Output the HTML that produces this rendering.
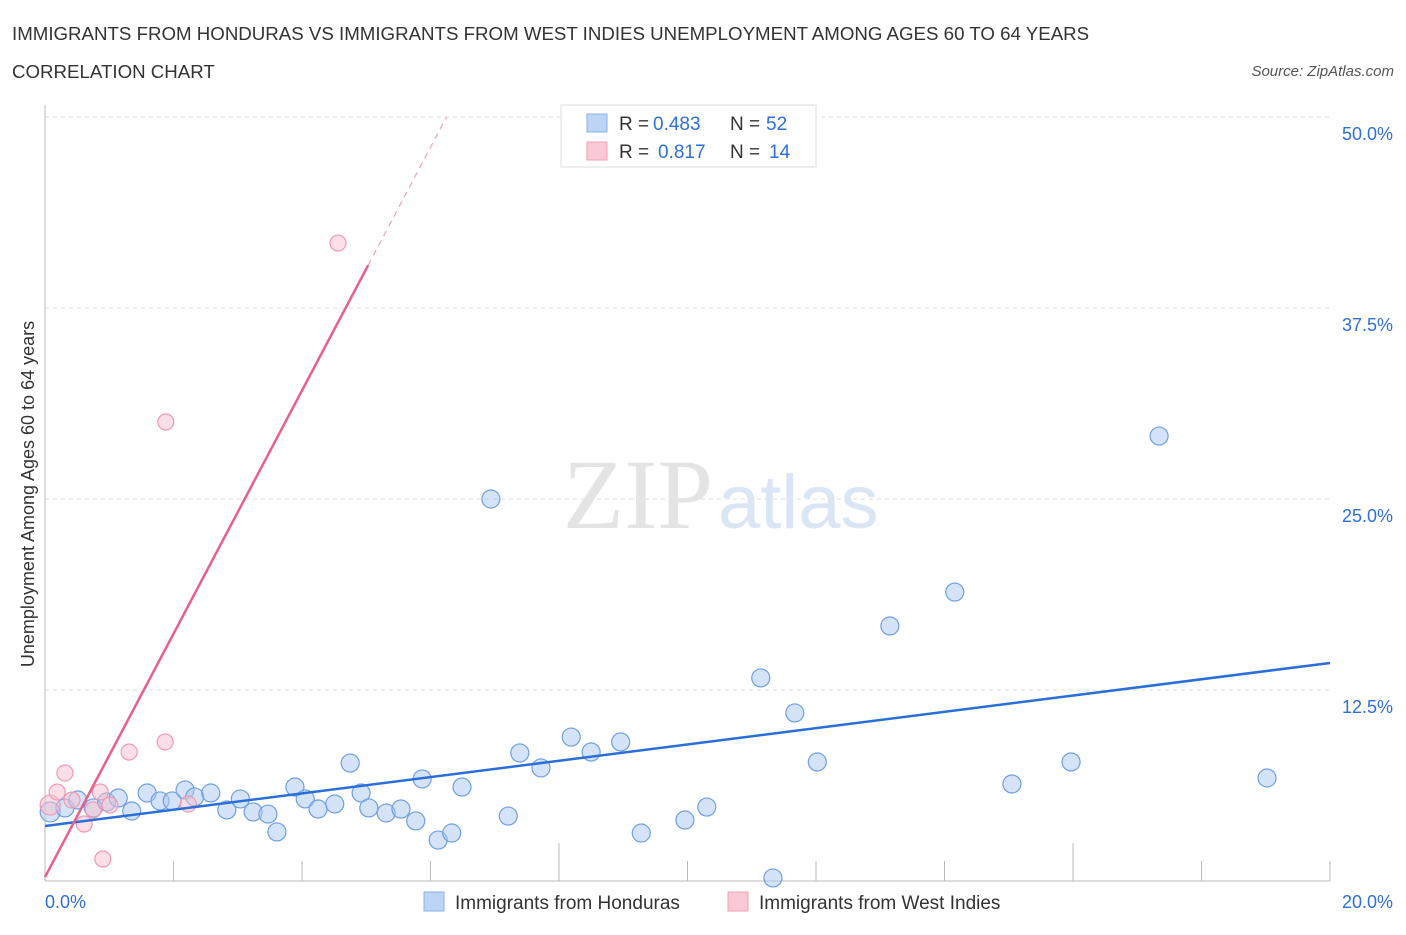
<!DOCTYPE html>
<html><head><meta charset="utf-8"><style>
body{margin:0;background:#fff;font-family:"Liberation Sans",sans-serif;}
</style></head><body>
<svg width="1406" height="930" xmlns="http://www.w3.org/2000/svg" style="font-family:'Liberation Sans',sans-serif">
<text x="12" y="40" font-size="18.7" fill="#333">IMMIGRANTS FROM HONDURAS VS IMMIGRANTS FROM WEST INDIES UNEMPLOYMENT AMONG AGES 60 TO 64 YEARS</text>
<text x="12" y="78" font-size="18.7" fill="#333">CORRELATION CHART</text>
<text x="1394" y="76" font-size="15" fill="#555" font-style="italic" text-anchor="end">Source: ZipAtlas.com</text>
<g id="grid"></g>
<g id="axes"></g>
<text x="713" y="528" font-size="100" fill="#e4e4e4" text-anchor="end" font-family="Liberation Serif">ZIP</text>
<text x="718" y="528" font-size="76" fill="#dbe6f5">atlas</text>
<g id="marks"></g>
<text x="34" y="494" font-size="18" fill="#333" text-anchor="middle" transform="rotate(-90 34 494)">Unemployment Among Ages 60 to 64 years</text>
<g>
<rect x="561" y="105" width="255" height="62" fill="#fff" stroke="#ddd"/>
<rect x="587" y="114" width="20" height="18" fill="#bcd4f5" stroke="#8ab0e8"/>
<rect x="587" y="142" width="20" height="18" fill="#fac9d6" stroke="#f0a0b8"/>
<text x="619" y="130" font-size="19" fill="#333">R =</text>
<text x="653" y="130" font-size="19" fill="#2f6fd6">0.483</text>
<text x="730" y="130" font-size="19" fill="#333">N =</text>
<text x="766" y="130" font-size="19" fill="#2f6fd6">52</text>
<text x="619" y="158" font-size="19" fill="#333">R =</text>
<text x="658" y="158" font-size="19" fill="#2f6fd6">0.817</text>
<text x="730" y="158" font-size="19" fill="#333">N =</text>
<text x="769" y="158" font-size="19" fill="#2f6fd6">14</text>
</g>
<g>
<rect x="424" y="892" width="20" height="19" fill="#bcd4f5" stroke="#8ab0e8"/>
<text x="455" y="909" font-size="19" fill="#333">Immigrants from Honduras</text>
<rect x="728" y="892" width="20" height="19" fill="#fac9d6" stroke="#f0a0b8"/>
<text x="759" y="909" font-size="19" fill="#333">Immigrants from West Indies</text>
</g>
</svg>
<script>
const blueX=[0.08,0.31,0.51,0.75,0.96,1.14,1.35,1.59,1.79,1.98,2.18,2.33,2.58,2.83,3.04,3.24,3.47,3.61,3.89,4.05,4.25,4.51,4.75,4.92,5.04,5.31,5.54,5.77,5.87,6.12,6.33,6.49,6.94,7.21,7.39,7.72,8.19,8.5,8.96,9.28,9.96,10.3,11.14,11.33,11.67,12.02,13.15,14.16,15.05,15.97,17.34,19.02];
const blueY=[4.52,4.78,5.3,4.78,5.17,5.43,4.58,5.76,5.24,5.24,5.96,5.5,5.76,4.65,5.37,4.52,4.38,3.21,6.15,5.37,4.71,5.04,7.72,5.76,4.78,4.45,4.71,3.93,6.68,2.68,3.14,6.15,25.0,4.25,8.38,7.4,9.42,8.44,9.1,3.14,3.99,4.84,13.29,0.2,11.0,7.79,16.69,18.91,6.35,7.79,29.12,6.74];
const pinkX=[0.08,0.19,0.31,0.42,0.61,0.75,0.86,1.01,0.9,1.31,1.87,2.23,1.88,4.56];
const pinkY=[4.97,5.82,7.07,5.3,3.73,4.65,5.82,4.97,1.44,8.44,9.1,5.04,30.04,41.75];
const yTicks=[12.5,25.0,37.5,50.0];
const yTickLabels=["12.5%","25.0%","37.5%","50.0%"];
const blueFit=[3.6,14.27];
const pinkFit=[0.26,7.96];
const NS="http://www.w3.org/2000/svg";
const X0=45,X1=1330,Y0=881,Y1=117;
const sx=v=>X0+(v/20)*(X1-X0);
const sy=v=>Y0-(v/50)*(Y0-Y1);
function mk(t,a,p){const e=document.createElementNS(NS,t);for(const k in a)e.setAttribute(k,a[k]);p.appendChild(e);return e;}
const grid=document.getElementById('grid'),axes=document.getElementById('axes'),marks=document.getElementById('marks');
yTicks.forEach((t,i)=>{
 const l=mk('line',{x1:X0,x2:X1,y1:sy(t),y2:sy(t),stroke:'#ddd','stroke-dasharray':'4,4'},grid);
 
 
 const tx=mk('text',{x:1393,y:sy(t)+23,'font-size':18,fill:'#2f6fd6','text-anchor':'end'},axes);
 tx.textContent=yTickLabels[i];
 
 
});
mk('line',{x1:X0,x2:X0,y1:105,y2:Y0,stroke:'#bbb'},axes);
mk('line',{x1:X0,x2:X1,y1:Y0,y2:Y0,stroke:'#bbb'},axes);
for(let i=1;i<=10;i++){const x=sx(i*2);mk('line',{x1:x,x2:x,y1:Y0,y2:(i==4||i==8)?Y0-38:Y0-20,stroke:'#bbb'},axes);}
const xl0=mk('text',{x:45,y:908,'font-size':18,fill:'#2f6fd6'},axes);xl0.textContent='0.0%';


const xl1=mk('text',{x:1393,y:908,'font-size':18,fill:'#2f6fd6','text-anchor':'end'},axes);xl1.textContent='20.0%';


blueX.forEach((x,i)=>{
 const c=mk('circle',{cx:sx(x),cy:sy(blueY[i]),r:i==0?10:9,fill:'rgba(170,200,240,0.5)',stroke:'#6f9fe0','stroke-width':1.2},marks);
 
 
});
pinkX.forEach((x,i)=>{
 const c=mk('circle',{cx:sx(x),cy:sy(pinkY[i]),r:i==0?10:8,fill:'rgba(248,190,205,0.5)',stroke:'#ee9ab2','stroke-width':1.2},marks);
 
 
});
const bl=mk('line',{x1:sx(0),y1:sy(blueFit[0]),x2:sx(20),y2:sy(blueFit[1]),stroke:'#2a6fd8','stroke-width':2.5},marks);


const xs=5.03,xe=(50-pinkFit[0])/pinkFit[1];
const pl=mk('line',{x1:sx(0),y1:sy(pinkFit[0]),x2:sx(xs),y2:sy(pinkFit[0]+pinkFit[1]*xs),stroke:'#e8608a','stroke-width':2.5},marks);


const pd=mk('line',{x1:sx(xs),y1:sy(pinkFit[0]+pinkFit[1]*xs),x2:sx(xe),y2:sy(50),stroke:'#eea0b8','stroke-width':1.2,'stroke-dasharray':'6,5'},marks);


</script>
</body></html>
